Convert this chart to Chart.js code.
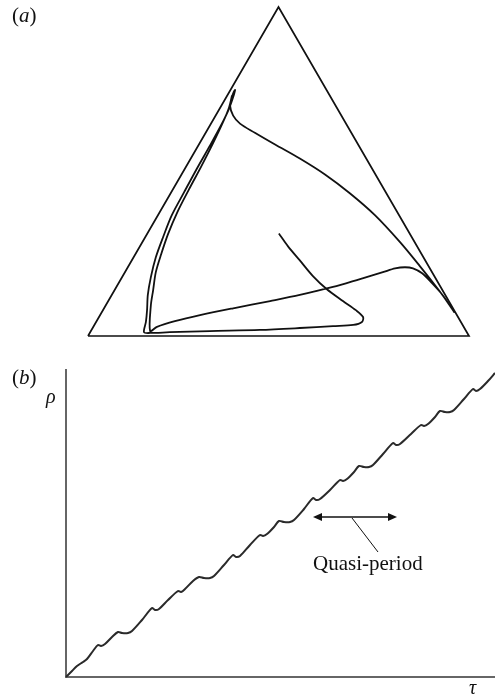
<!DOCTYPE html>
<html>
<head>
<meta charset="utf-8">
<script src="https://cdn.jsdelivr.net/npm/chart.js@4.4.1/dist/chart.umd.min.js"></script>
<style>
  body { margin: 0; background: #fff; }
  #wrap { position: relative; width: 495px; height: 698px; overflow: hidden; background: #fff; }
  canvas { position: absolute; left: 0; }
  .lbl { position: absolute; font-family: "Liberation Serif", "DejaVu Serif", serif; color: #111; line-height: 1; white-space: nowrap; }
</style>
</head>
<body>
<div id="wrap">
  <canvas id="simplexChart" width="495" height="345" style="top:0"></canvas>
  <canvas id="rhoChart" width="495" height="353" style="top:345px"></canvas>
  <div class="lbl" style="left:12px; top:5px; font-size:21px">(<i>a</i>)</div>
  <div class="lbl" style="left:12px; top:367px; font-size:21px">(<i>b</i>)</div>
  <div class="lbl" style="left:46px; top:386px; font-size:20px"><i>ρ</i></div>
  <div class="lbl" style="left:469px; top:677px; font-size:20px"><i>τ</i></div>
  <div class="lbl" style="left:313px; top:553px; font-size:21px">Quasi-period</div>
</div>
<script>
// simplex edges, unit side
var triX = [0, 1, 0.5, 0];
var triY = [0, 0, 0.866, 0];

// trajectory inside the simplex
var trajX = [0.501, 0.525, 0.556, 0.591, 0.627, 0.669, 0.703, 0.722, 0.719, 0.696,
  0.643, 0.556, 0.451, 0.320, 0.215, 0.163, 0.147, 0.152, 0.155, 0.157,
  0.165, 0.178, 0.197, 0.220, 0.252, 0.286, 0.320, 0.349, 0.370, 0.383,
  0.386, 0.378, 0.373, 0.381, 0.399, 0.438, 0.491, 0.556, 0.622, 0.688,
  0.753, 0.819, 0.871, 0.919, 0.945, 0.961, 0.950, 0.929, 0.903, 0.877,
  0.853, 0.832, 0.806, 0.774, 0.714, 0.643, 0.556, 0.478, 0.381, 0.294,
  0.228, 0.181, 0.163, 0.165, 0.171, 0.178, 0.192, 0.210, 0.234, 0.265,
  0.297, 0.328, 0.354, 0.370, 0.378];
var trajY = [0.270, 0.236, 0.199, 0.157, 0.123, 0.092, 0.068, 0.050, 0.037, 0.029,
  0.026, 0.021, 0.016, 0.013, 0.010, 0.008, 0.010, 0.037, 0.068, 0.108,
  0.155, 0.207, 0.260, 0.318, 0.378, 0.441, 0.501, 0.554, 0.598, 0.635,
  0.648, 0.630, 0.606, 0.580, 0.559, 0.535, 0.504, 0.467, 0.425, 0.375,
  0.318, 0.247, 0.184, 0.123, 0.087, 0.063, 0.081, 0.110, 0.139, 0.165,
  0.178, 0.181, 0.178, 0.168, 0.150, 0.129, 0.108, 0.092, 0.073, 0.055,
  0.039, 0.024, 0.013, 0.081, 0.121, 0.168, 0.215, 0.268, 0.325, 0.386,
  0.446, 0.507, 0.562, 0.601, 0.633];

// rho against tau
var tau = [0, 0.6, 1.1, 1.7, 2.1, 2.7, 3.2, 3.5, 3.9, 4.6,
  5.2, 5.6, 6.2, 6.6, 7.6, 8.6, 8.9, 9.3, 10.2, 11.2,
  11.5, 11.9, 12.7, 13.3, 13.8, 14.4, 14.8, 15.8, 16.7, 17.0,
  17.4, 18.4, 19.4, 19.7, 20.1, 20.8, 21.3, 21.8, 22.4, 22.8,
  23.8, 24.7, 25.0, 25.4, 26.4, 27.4, 27.7, 28.1, 28.8, 29.3,
  29.8, 30.3, 30.7, 31.7, 32.7, 33.0, 33.4, 34.5, 35.5, 35.8,
  36.2, 36.9, 37.4, 37.9, 38.4, 38.8, 39.8, 40.7, 41.0, 41.4,
  42.2, 42.9];
var rho = [0, 0.6, 1.1, 1.5, 1.8, 2.6, 3.2, 3.1, 3.3, 4.0,
  4.5, 4.4, 4.4, 4.6, 5.7, 6.9, 6.7, 6.8, 7.7, 8.6,
  8.5, 8.8, 9.6, 10.0, 9.9, 9.9, 10.1, 11.2, 12.2, 12.0,
  12.1, 13.2, 14.2, 14.1, 14.3, 15.0, 15.6, 15.5, 15.5, 15.7,
  16.8, 17.9, 17.7, 17.8, 18.7, 19.7, 19.6, 19.8, 20.5, 21.1,
  21.0, 21.0, 21.2, 22.3, 23.4, 23.2, 23.3, 24.3, 25.2, 25.1,
  25.3, 26.0, 26.6, 26.5, 26.5, 26.7, 27.8, 28.8, 28.6, 28.8,
  29.6, 30.4];

// quasi-period marker
var periodStart = 24.7;
var periodEnd = 33.1;
var periodRho = 16.0;
var leaderFrom = [28.6, 15.9];
var leaderTo = [31.2, 12.5];

function toPoints(xs, ys) {
  var pts = [];
  for (var i = 0; i < xs.length; i++) pts.push({x: xs[i], y: ys[i]});
  return pts;
}

var hidden = {display: false};

new Chart(document.getElementById("simplexChart"), {
  type: 'scatter',
  data: {
    datasets: [{
      data: toPoints(triX, triY),
      showLine: true,
      borderColor: '#111',
      borderWidth: 1.7,
      borderJoinStyle: 'miter',
      pointRadius: 0,
      clip: false
    }, {
      data: toPoints(trajX, trajY),
      showLine: true,
      borderColor: '#111',
      borderWidth: 1.8,
      tension: 0.3,
      pointRadius: 0,
      clip: false
    }]
  },
  options: {
    responsive: false,
    animation: false,
    devicePixelRatio: 1,
    layout: {padding: {left: 88, right: 26, top: 7, bottom: 9}},
    plugins: {legend: hidden, tooltip: {enabled: false}},
    scales: {
      x: {type: 'linear', min: 0, max: 1, display: false},
      y: {type: 'linear', min: 0, max: 0.866, display: false}
    }
  }
});

// double-headed arrow with a leader line
var periodArrow = {
  id: 'periodArrow',
  afterDatasetsDraw: function(chart) {
    var ctx = chart.ctx, sx = chart.scales.x, sy = chart.scales.y;
    var x0 = sx.getPixelForValue(periodStart), x1 = sx.getPixelForValue(periodEnd);
    var y = sy.getPixelForValue(periodRho);
    ctx.save();
    ctx.strokeStyle = '#111';
    ctx.fillStyle = '#111';
    ctx.lineWidth = 1.5;
    ctx.beginPath();
    ctx.moveTo(x0 + 6, y);
    ctx.lineTo(x1 - 6, y);
    ctx.stroke();
    ctx.beginPath();
    ctx.moveTo(x0, y); ctx.lineTo(x0 + 9, y - 4); ctx.lineTo(x0 + 9, y + 4); ctx.closePath();
    ctx.moveTo(x1, y); ctx.lineTo(x1 - 9, y - 4); ctx.lineTo(x1 - 9, y + 4); ctx.closePath();
    ctx.fill();
    ctx.lineWidth = 1;
    ctx.beginPath();
    ctx.moveTo(sx.getPixelForValue(leaderFrom[0]), sy.getPixelForValue(leaderFrom[1]));
    ctx.lineTo(sx.getPixelForValue(leaderTo[0]), sy.getPixelForValue(leaderTo[1]));
    ctx.stroke();
    ctx.restore();
  }
};

var axisLine = {display: true, color: '#666', width: 2};

new Chart(document.getElementById("rhoChart"), {
  type: 'scatter',
  data: {
    datasets: [{
      data: toPoints(tau, rho),
      showLine: true,
      borderColor: '#2a2a2a',
      borderWidth: 2,
      tension: 0.3,
      pointRadius: 0,
      clip: false
    }]
  },
  options: {
    responsive: false,
    animation: false,
    devicePixelRatio: 1,
    layout: {padding: {left: 66, right: 0, top: 25, bottom: 21}},
    plugins: {legend: hidden, tooltip: {enabled: false}},
    scales: {
      x: {
        type: 'linear', min: 0, max: 42.9,
        grid: {display: false, drawTicks: false},
        ticks: {display: false},
        border: axisLine
      },
      y: {
        type: 'linear', min: 0, max: 30.7,
        grid: {display: false, drawTicks: false},
        ticks: {display: false},
        border: axisLine
      }
    }
  },
  plugins: [periodArrow]
});
</script>
</body>
</html>
